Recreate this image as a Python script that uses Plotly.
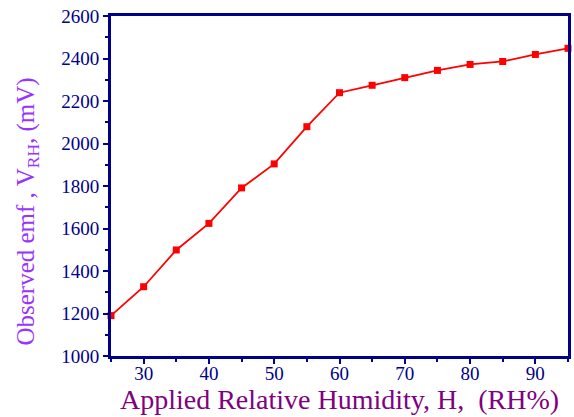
import plotly.graph_objects as go

# humidity (RH%) and observed emf (mV)
humidity = [25, 30, 35, 40, 45, 50, 55, 60, 65, 70, 75, 80, 85, 90, 95]
emf_mv = [1190, 1326, 1499, 1624, 1791, 1904, 2079, 2239, 2274, 2310, 2344, 2372, 2386, 2419, 2448]

x_ticks = [30, 40, 50, 60, 70, 80, 90]
y_ticks = [1000, 1200, 1400, 1600, 1800, 2000, 2200, 2400, 2600]

NAVY = "#00008b"
SERIF = "Liberation Serif, Times New Roman, serif"

W, H = 574, 417
L, R, T, B = 111, 3, 16, 61

fig = go.Figure()
fig.add_trace(go.Scatter(
    x=humidity, y=emf_mv,
    mode="lines+markers",
    line=dict(color="#ff0000", width=1.8),
    marker=dict(symbol="square", size=7, color="#ff0000"),
    showlegend=False,
    cliponaxis=False,
))

axis_common = dict(
    showgrid=False, zeroline=False,
    showline=True, linecolor=NAVY, linewidth=3, mirror=True,
    ticks="outside", tickcolor=NAVY, tickwidth=2, ticklen=5,
    tickfont=dict(family=SERIF, size=19, color=NAVY),
)

fig.update_xaxes(
    range=[25, 95], tickvals=x_ticks, ticklabelstandoff=-7,
    minor=dict(dtick=5, ticks="outside", ticklen=3, tickcolor=NAVY, tickwidth=2),
    title=dict(text="Applied Relative Humidity, H,  (RH%)",
               font=dict(family=SERIF, size=28, color="#800080"), standoff=0),
    **axis_common,
)
fig.update_yaxes(
    range=[1000, 2600], tickvals=y_ticks,
    minor=dict(dtick=100, ticks="outside", ticklen=3, tickcolor=NAVY, tickwidth=2),
    **axis_common,
)

# y title as an annotation so it can sit a bit below the plot centre like the original
fig.add_annotation(
    text="Observed emf , V<sub>RH</sub>, (mV)",
    xref="paper", yref="paper",
    x=(27 - L) / (W - L - R), y=(H - B - 212) / (H - T - B),
    xanchor="center", yanchor="middle", textangle=-90, showarrow=False,
    font=dict(family=SERIF, size=25, color="#9933ff"),
)

fig.update_layout(
    width=W, height=H,
    margin=dict(l=L, r=R, t=T, b=B),
    plot_bgcolor="white", paper_bgcolor="white",
)

# drop the default 8px page margin so the figure fills the window exactly
fig.write_html("out.html", config={"displayModeBar": False},
               post_script="document.body.style.margin='0';")
